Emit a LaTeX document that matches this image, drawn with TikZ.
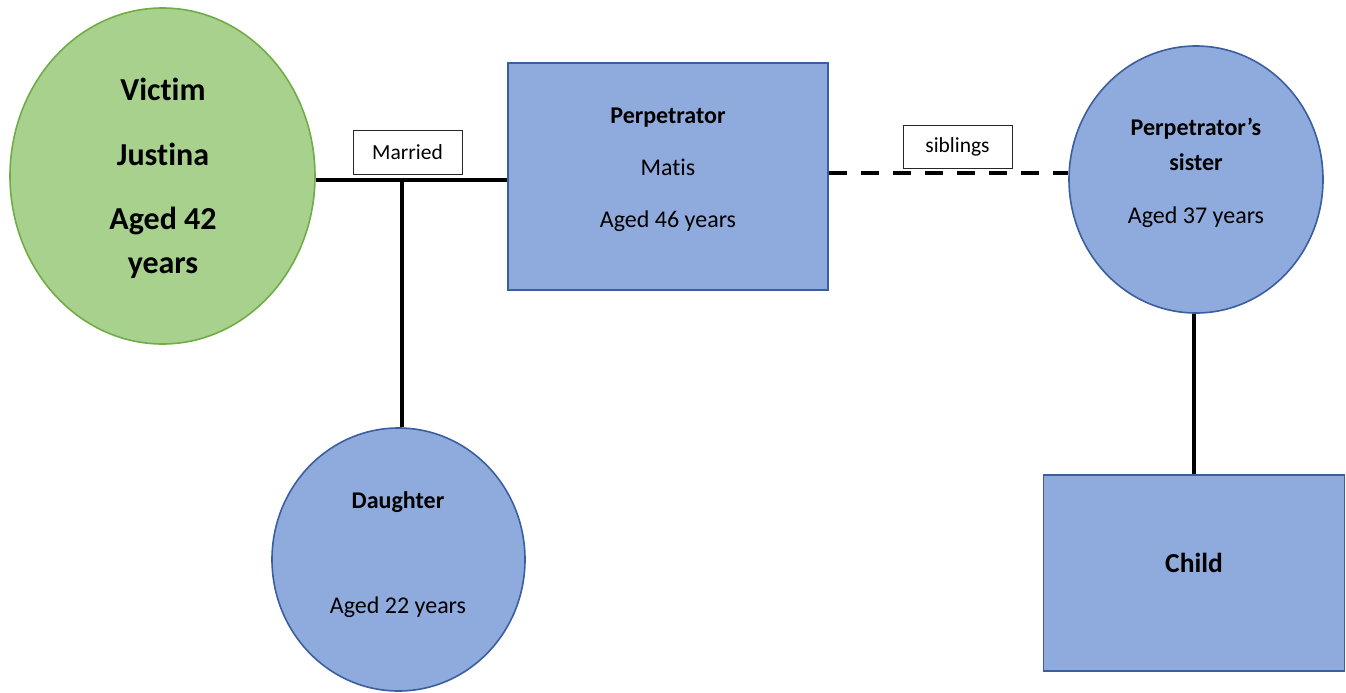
\documentclass[tikz,border=0pt]{standalone}
\usepackage{fontspec}
\setmainfont{Carlito}[Ligatures=CommonOff]
\usetikzlibrary{shapes.geometric}
\definecolor{vicfill}{HTML}{A9D18E}
\definecolor{vicline}{HTML}{70AD47}
\definecolor{famfill}{HTML}{8FAADC}
\definecolor{famline}{HTML}{3A5E9E}

\begin{document}
\begin{tikzpicture}[x=1pt, y=-1pt,
    person/.style={ellipse, draw=famline, fill=famfill, line width=1.6pt, inner sep=0pt},
    victimstyle/.style={person, draw=vicline, fill=vicfill},
    box/.style={rectangle, draw=famline, fill=famfill, line width=1.8pt, inner sep=0pt},
    tag/.style={rectangle, draw=black!85, fill=white, line width=0.9pt, inner sep=0pt,
                minimum width=109pt, font=\fontsize{21.5}{24}\selectfont},
    txt/.style={align=center, anchor=base, inner sep=0pt},
    link/.style={line width=4.5pt}]
  \useasboundingbox (0,0) rectangle (1346,693);

  % the people
  \node[victimstyle, minimum width=305pt, minimum height=336pt] (victim) at (162.5,176) {};
  \node[box, minimum width=320pt, minimum height=227pt] (perp) at (668,176.5) {};
  \node[person, minimum width=254pt, minimum height=267pt] (sis) at (1196,179.5) {};
  \node[person, minimum width=253pt, minimum height=263pt] (daughter) at (398.5,559.5) {};
  \node[box, minimum width=301pt, minimum height=196pt] (child) at (1194,573) {};

  % their texts (anchored on the last line)
  \node[txt, font=\fontsize{32}{44}\selectfont\bfseries] (victim-txt) at (163,273)
    {Victim\\[21pt]Justina\\[20pt]Aged 42\\years};
  \node[txt, font=\fontsize{24}{52}\selectfont] (perp-txt) at (668,227)
    {\textbf{Perpetrator}\\Matis\\Aged 46 years};
  \node[txt, font=\fontsize{24}{35}\selectfont] (sis-txt) at (1196,223)
    {\textbf{Perpetrator’s}\\\textbf{sister}\\[18pt]Aged 37 years};
  \node[txt, font=\fontsize{24}{52}\selectfont] (daughter-txt) at (398,613)
    {\textbf{Daughter}\\[53pt]Aged 22 years};
  \node[txt, font=\fontsize{27.5}{33}\selectfont\bfseries] (child-txt) at (1194,572) {Child};

  % links
  \coordinate (wed) at (402,180);
  \coordinate (sib) at (950,173);
  \draw[link] (wed -| victim.east) -- (wed -| perp.west);
  \draw[link] (wed) -- (wed |- daughter.north);
  \draw[link, dash pattern=on 18pt off 14pt] (sib -| perp.east) -- (sib -| sis.west);
  \draw[link] (child.north |- sis.south) -- (child.north);

  \node[tag, minimum height=44pt] (married) at (407.5,152) {Married\hspace{8pt}};
  \node[tag, minimum height=43pt] (siblings) at (957.5,146.5) {siblings\hspace{10pt}};
\end{tikzpicture}
\end{document}
